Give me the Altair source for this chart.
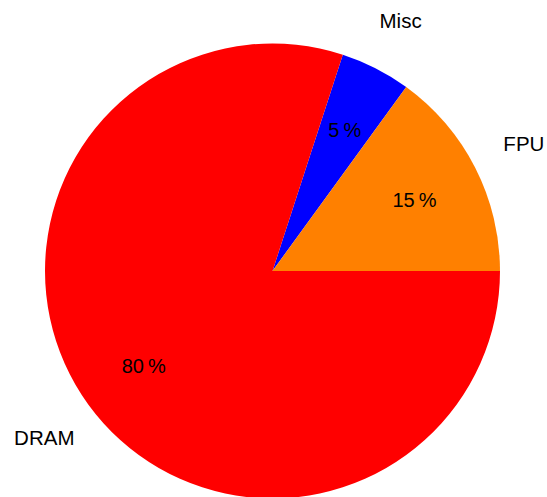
import math
import altair as alt
import pandas as pd

categories = ["Misc", "FPU", "DRAM"]
values = [5, 15, 80]
pct_labels = ["5\u2009%", "15\u2009%", "80\u2009%"]
colors = ["#0000ff", "#ff8000", "#ff0000"]
order = [0, 1, 2]

df = pd.DataFrame({"category": categories, "value": values, "pct": pct_labels, "ord": order})

CX, CY, R = 272.5, 271, 227.5
start = math.pi / 10

theta = alt.Theta("value:Q", stack=True,
                  scale=alt.Scale(domain=[0, 100], range=[start, start + 2 * math.pi]))
color = alt.Color("category:N", scale=alt.Scale(domain=categories, range=colors), legend=None)

base = alt.Chart(df).encode(theta=theta, order=alt.Order("ord:Q"))

arcs = base.mark_arc(radius=R, stroke=None).encode(
    color=color, x=alt.value(CX), y=alt.value(CY)
)

pcts = base.mark_text(radius=0.7 * R, font="Liberation Sans", fontSize=20,
                      color="black", align="center", baseline="middle", dy=2).encode(
    text="pct:N", x=alt.value(CX), y=alt.value(CY)
)

names = base.mark_text(radius=1.24 * R, font="Liberation Sans", fontSize=20.5,
                       color="black", align="center", baseline="middle", dy=2).encode(
    text="category:N", x=alt.value(CX), y=alt.value(CY)
)

chart = (arcs + pcts + names).properties(
    width=547, height=497, autosize="none", padding=0
).configure_view(stroke=None)

chart.save("out.html", embed_options={"renderer": "svg", "actions": False})
